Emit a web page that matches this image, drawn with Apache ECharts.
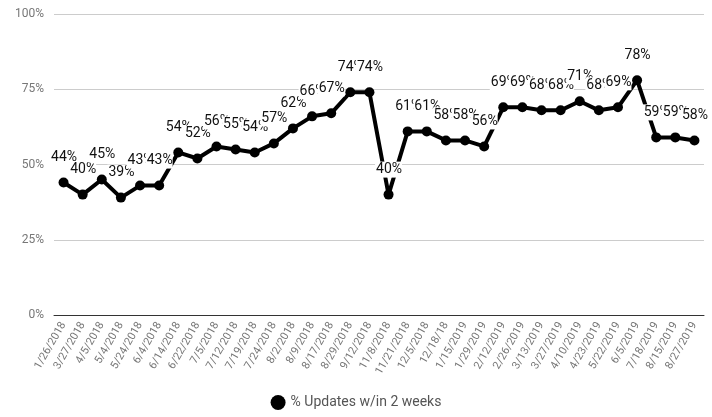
<!DOCTYPE html>
<html><head><meta charset="utf-8">
<script src="https://cdn.jsdelivr.net/npm/echarts@6/dist/echarts.min.js"></script>
<style>html,body{margin:0;padding:0;background:#fff}#c{width:712px;height:417px}</style>
</head><body><div id="c"></div>
<script>
const categories = ["1/26/2018","3/27/2018","4/5/2018","5/4/2018","5/24/2018","6/4/2018","6/14/2018","6/22/2018","7/5/2018","7/12/2018","7/19/2018","7/24/2018","8/2/2018","8/9/2018","8/17/2018","8/29/2018","9/12/2018","11/8/2018","11/21/2018","12/5/2018","12/18/18","1/15/2019","1/29/2019","2/12/2019","2/26/2019","3/13/2019","3/27/2019","4/10/2019","4/23/2019","5/22/2019","6/5/2019","7/18/2019","8/15/2019","8/27/2019"];
const values = [44,40,45,39,43,43,54,52,56,55,54,57,62,66,67,74,74,40,61,61,58,58,56,69,69,68,68,71,68,69,78,59,59,58];
const seriesName = "% Updates w/in 2 weeks";
const yTicks = [0,25,50,75,100];

const chart = echarts.init(document.getElementById('c'), null, {renderer:'canvas'});
chart.setOption({
  animation:false,
  textStyle:{fontFamily:'Roboto'},
  grid:{left:54,right:8,top:14,bottom:102},
  legend:{bottom:2,left:'center',icon:'circle',itemWidth:15,itemHeight:15,itemGap:10,
    textStyle:{color:'#555',fontSize:14,fontFamily:'Roboto'},data:[seriesName]},
  xAxis:{type:'category',data:categories,boundaryGap:true,
    axisLine:{lineStyle:{color:'#333',width:1}},axisTick:{show:false},
    axisLabel:{rotate:60,color:'#777',fontSize:11,interval:0,margin:8}},
  yAxis:{type:'value',min:0,max:100,interval:25,
    axisLabel:{formatter:'{value}%',color:'#777',fontSize:12,margin:10},
    splitLine:{lineStyle:{color:'#ccc'}},axisLine:{show:false},axisTick:{show:false}},
  series:[{name:seriesName,type:'line',data:values,color:'#000',
    lineStyle:{width:4,color:'#000'},symbol:'circle',symbolSize:10,
    itemStyle:{color:'#000'},
    label:{show:true,position:'top',distance:12,formatter:'{c}%',color:'#111',fontSize:14,
      backgroundColor:'#fff',padding:[1,0,1,1]}}]
});
</script></body></html>
